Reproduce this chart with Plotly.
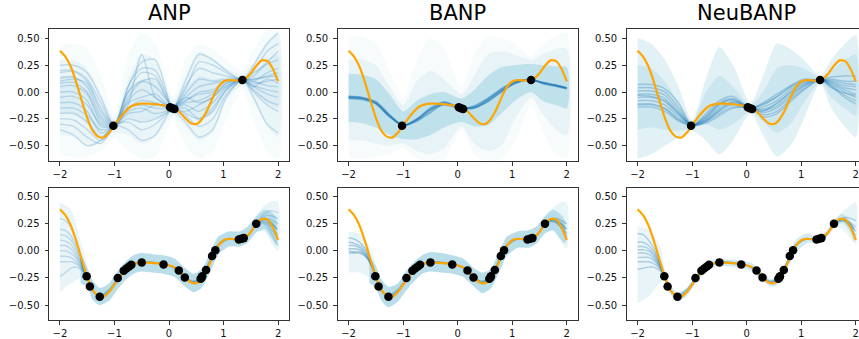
import plotly.graph_objects as go

# ---------------- data ----------------
TITLES = ["ANP", "BANP", "NeuBANP"]
X_TICKS = [-2, -1, 0, 1, 2]
X_TICK_TEXT = ["−2", "−1", "0", "1", "2"]
Y_TICKS = [-0.5, -0.25, 0.0, 0.25, 0.5]
Y_TICK_TEXT = ["−0.50", "−0.25", "0.00", "0.25", "0.50"]

# true function (orange)
TRUE_X = [-2.0, -1.9, -1.8, -1.7, -1.6, -1.5, -1.4, -1.3, -1.2, -1.1, -1.0,
          -0.9, -0.8, -0.7, -0.6, -0.5, -0.4, -0.3, -0.2, -0.1, 0.0,
          0.1, 0.2, 0.3, 0.4, 0.5, 0.6, 0.7, 0.8, 0.9, 1.0,
          1.1, 1.2, 1.3, 1.4, 1.5, 1.6, 1.7, 1.8, 1.9, 2.0]
TRUE_Y = [0.385, 0.33, 0.235, 0.09, -0.08, -0.24, -0.36, -0.415, -0.425, -0.38, -0.31,
          -0.24, -0.18, -0.135, -0.115, -0.108, -0.108, -0.112, -0.116, -0.124, -0.133,
          -0.152, -0.19, -0.245, -0.29, -0.298, -0.255, -0.17, -0.055, 0.045, 0.098,
          0.112, 0.108, 0.106, 0.125, 0.175, 0.245, 0.295, 0.29, 0.22, 0.10]

# context points
CTX_TOP_X = [-1.02, 0.02, 0.06, 0.10, 1.345]
CTX_TOP_Y = [-0.314, -0.142, -0.15, -0.158, 0.112]
CTX_BOT_X = [-1.51, -1.45, -1.27, -0.94, -0.83, -0.78, -0.73, -0.69, -0.50, -0.10,
             0.18, 0.29, 0.58, 0.60, 0.61, 0.68, 0.79, 0.85, 1.28, 1.33, 1.37, 1.60]
CTX_BOT_Y = [-0.233, -0.328, -0.424, -0.251, -0.184, -0.162, -0.143, -0.128, -0.106, -0.125,
             -0.18, -0.245, -0.257, -0.245, -0.233, -0.177, -0.048, 0.007, 0.106, 0.112, 0.118, 0.25]

# ---- top row (3 context points) ----
TOP_X = [-2.0, -1.75, -1.5, -1.25, -1.0, -0.75, -0.5, -0.25, 0.07, 0.3, 0.55, 0.8, 1.05, 1.35, 1.55, 1.8, 2.0]

ANP_TOP_LINES = [
    [0.25, 0.25, 0.18, -0.05, -0.31, 0.05, 0.28, 0.30, -0.15, 0.10, 0.35, 0.30, 0.20, 0.115, 0.25, 0.45, 0.55],
    [0.18, 0.19, 0.10, -0.15, -0.31, -0.05, 0.10, 0.12, -0.15, -0.05, -0.10, -0.05, 0.08, 0.115, 0.20, 0.38, 0.45],
    [0.13, 0.14, 0.05, -0.22, -0.31, -0.15, -0.08, -0.10, -0.15, 0.05, 0.22, 0.18, 0.15, 0.115, 0.15, 0.28, 0.38],
    [0.10, 0.12, 0.08, -0.18, -0.31, 0.00, 0.18, 0.15, -0.15, -0.15, -0.25, -0.18, 0.02, 0.115, 0.10, 0.18, 0.22],
    [0.05, 0.06, -0.02, -0.28, -0.31, -0.25, -0.28, -0.25, -0.15, -0.05, 0.05, 0.08, 0.10, 0.115, 0.12, 0.15, 0.18],
    [0.00, 0.00, -0.08, -0.32, -0.31, -0.10, -0.05, -0.02, -0.15, -0.10, -0.08, -0.02, 0.06, 0.115, 0.08, 0.10, 0.12],
    [-0.05, -0.04, -0.12, -0.30, -0.31, 0.05, 0.22, 0.20, -0.15, -0.22, -0.32, -0.25, -0.02, 0.115, 0.10, 0.06, 0.05],
    [-0.10, -0.10, -0.18, -0.38, -0.31, -0.18, -0.15, -0.20, -0.15, -0.02, 0.12, 0.10, 0.12, 0.115, 0.06, 0.02, 0.00],
    [-0.15, -0.15, -0.22, -0.35, -0.31, -0.08, 0.02, -0.05, -0.15, -0.12, -0.18, -0.10, 0.04, 0.115, 0.05, -0.02, -0.05],
    [-0.20, -0.20, -0.28, -0.42, -0.31, -0.28, -0.35, -0.30, -0.15, -0.08, -0.02, 0.00, 0.08, 0.115, 0.02, -0.08, -0.12],
    [-0.25, -0.26, -0.35, -0.45, -0.31, 0.00, 0.10, 0.05, -0.15, -0.28, -0.42, -0.35, -0.05, 0.115, 0.00, -0.12, -0.18],
    [-0.30, -0.32, -0.42, -0.48, -0.31, -0.15, -0.12, -0.15, -0.15, -0.08, 0.00, 0.02, 0.10, 0.115, 0.12, 0.14, 0.15],
    [-0.35, -0.40, -0.50, -0.45, -0.31, -0.35, -0.45, -0.40, -0.15, -0.20, -0.25, -0.15, 0.02, 0.115, -0.05, -0.30, -0.38],
    [0.20, 0.20, 0.12, -0.10, -0.31, -0.20, -0.18, -0.12, -0.15, 0.02, 0.28, 0.25, 0.18, 0.115, 0.18, 0.26, 0.30],
    [0.08, 0.09, 0.00, -0.25, -0.31, -0.12, 0.35, -0.05, -0.15, -0.18, -0.12, -0.05, 0.05, 0.115, 0.05, 0.12, 0.08],
]
ANP_TOP_BANDS = [
    ([-0.60, -0.60, -0.60, -0.55, -0.42, -0.55, -0.62, -0.60, -0.26, -0.50, -0.62, -0.55, -0.25, 0.02, -0.25, -0.55, -0.62],
     [0.45, 0.45, 0.40, 0.15, -0.20, 0.35, 0.55, 0.45, -0.04, 0.30, 0.45, 0.40, 0.30, 0.20, 0.40, 0.58, 0.60]),
    ([-0.40, -0.42, -0.50, -0.48, -0.38, -0.40, -0.48, -0.42, -0.22, -0.32, -0.45, -0.38, -0.08, 0.06, -0.08, -0.32, -0.42],
     [0.30, 0.30, 0.22, -0.02, -0.24, 0.12, 0.35, 0.30, -0.08, 0.15, 0.38, 0.32, 0.22, 0.17, 0.27, 0.48, 0.55]),
    ([-0.20, -0.20, -0.30, -0.42, -0.35, -0.25, -0.28, -0.25, -0.19, -0.20, -0.25, -0.20, 0.00, 0.08, 0.00, -0.10, -0.15],
     [0.15, 0.15, 0.08, -0.18, -0.27, 0.00, 0.12, 0.10, -0.11, 0.02, 0.15, 0.12, 0.14, 0.15, 0.18, 0.30, 0.35]),
]

BANP_TOP_LINES = [
    [-0.05, -0.06, -0.10, -0.22, -0.31, -0.26, -0.17, -0.10, -0.15, -0.14, -0.07, 0.02, 0.09, 0.115, 0.085, 0.06, 0.035],
    [-0.04, -0.05, -0.09, -0.21, -0.31, -0.25, -0.15, -0.09, -0.15, -0.13, -0.06, 0.03, 0.10, 0.115, 0.09, 0.065, 0.04],
    [-0.06, -0.07, -0.11, -0.23, -0.31, -0.27, -0.19, -0.11, -0.15, -0.15, -0.08, 0.01, 0.08, 0.115, 0.08, 0.055, 0.03],
    [-0.05, -0.055, -0.105, -0.225, -0.31, -0.255, -0.16, -0.12, -0.15, -0.145, -0.09, 0.00, 0.085, 0.115, 0.088, 0.062, 0.038],
]
BANP_TOP_BANDS = [
    ([-0.62, -0.62, -0.60, -0.58, -0.52, -0.62, -0.66, -0.62, -0.36, -0.58, -0.66, -0.62, -0.45, -0.12, -0.35, -0.58, -0.62],
     [0.52, 0.52, 0.45, 0.20, -0.05, 0.30, 0.50, 0.40, 0.05, 0.35, 0.52, 0.50, 0.45, 0.33, 0.45, 0.52, 0.55]),
    ([-0.45, -0.45, -0.48, -0.50, -0.48, -0.55, -0.58, -0.52, -0.32, -0.48, -0.55, -0.50, -0.25, -0.05, -0.20, -0.35, -0.40],
     [0.30, 0.30, 0.25, 0.05, -0.12, 0.10, 0.20, 0.12, -0.02, 0.15, 0.35, 0.38, 0.35, 0.30, 0.35, 0.40, 0.40]),
    ([-0.28, -0.29, -0.33, -0.40, -0.44, -0.44, -0.40, -0.33, -0.28, -0.32, -0.31, -0.20, -0.08, 0.00, -0.08, -0.12, -0.15],
     [0.17, 0.16, 0.12, -0.02, -0.18, -0.08, -0.02, 0.00, -0.06, 0.02, 0.15, 0.23, 0.25, 0.26, 0.25, 0.24, 0.23]),
]

NEU_TOP_LINES = [
    [0.07, 0.07, 0.03, -0.10, -0.31, -0.20, -0.08, -0.04, -0.15, -0.10, -0.02, 0.06, 0.12, 0.115, 0.14, 0.15, 0.15],
    [0.04, 0.04, 0.00, -0.14, -0.31, -0.22, -0.10, -0.06, -0.15, -0.12, -0.05, 0.04, 0.10, 0.115, 0.12, 0.10, 0.10],
    [0.01, 0.01, -0.03, -0.17, -0.31, -0.24, -0.12, -0.08, -0.15, -0.14, -0.08, 0.02, 0.09, 0.115, 0.10, 0.06, 0.05],
    [-0.02, -0.02, -0.06, -0.19, -0.31, -0.25, -0.14, -0.10, -0.15, -0.16, -0.11, 0.00, 0.08, 0.115, 0.09, 0.04, 0.02],
    [-0.05, -0.05, -0.09, -0.21, -0.31, -0.26, -0.16, -0.11, -0.15, -0.17, -0.13, -0.03, 0.06, 0.115, 0.08, 0.02, -0.02],
    [-0.08, -0.08, -0.12, -0.23, -0.31, -0.27, -0.18, -0.12, -0.15, -0.19, -0.15, -0.05, 0.05, 0.115, 0.07, 0.00, -0.05],
    [-0.11, -0.11, -0.15, -0.25, -0.31, -0.28, -0.20, -0.14, -0.15, -0.21, -0.18, -0.07, 0.03, 0.115, 0.06, -0.03, -0.08],
    [-0.14, -0.14, -0.18, -0.27, -0.31, -0.29, -0.22, -0.15, -0.15, -0.23, -0.20, -0.09, 0.02, 0.115, 0.05, -0.05, -0.11],
    [-0.03, -0.04, -0.08, -0.20, -0.31, -0.23, -0.11, -0.07, -0.15, -0.11, -0.04, 0.05, 0.11, 0.115, 0.11, 0.08, 0.07],
    [-0.12, -0.12, -0.16, -0.26, -0.31, -0.27, -0.17, -0.09, -0.15, -0.18, -0.10, -0.01, 0.07, 0.115, 0.04, -0.01, -0.03],
]
NEU_TOP_BANDS = [
    ([-0.62, -0.58, -0.50, -0.42, -0.36, -0.45, -0.58, -0.45, -0.20, -0.40, -0.60, -0.50, -0.25, 0.08, -0.15, -0.32, -0.42],
     [0.50, 0.45, 0.30, 0.05, -0.26, 0.12, 0.42, 0.25, -0.10, 0.15, 0.45, 0.40, 0.30, 0.15, 0.30, 0.45, 0.53]),
    ([-0.35, -0.33, -0.35, -0.36, -0.34, -0.30, -0.35, -0.30, -0.18, -0.28, -0.38, -0.30, -0.10, 0.09, -0.05, -0.15, -0.22],
     [0.25, 0.22, 0.10, -0.10, -0.28, 0.00, 0.15, 0.05, -0.12, 0.00, 0.22, 0.25, 0.22, 0.14, 0.20, 0.30, 0.35]),
]

# ---- bottom row (many context points) ----
BOT_BAND_X = [-1.62, -1.5, -1.4, -1.27, -1.1, -0.95, -0.8, -0.65, -0.5, -0.3, -0.1, 0.1,
              0.3, 0.45, 0.6, 0.75, 0.9, 1.1, 1.3, 1.45, 1.6, 1.75, 1.9, 1.97]
ANP_BOT_LO = [-0.30, -0.33, -0.45, -0.50, -0.46, -0.36, -0.27, -0.21, -0.19, -0.20, -0.21, -0.24,
              -0.33, -0.38, -0.34, -0.20, -0.04, 0.04, 0.04, 0.08, 0.17, 0.20, 0.10, 0.05]
ANP_BOT_HI = [-0.02, -0.15, -0.27, -0.34, -0.30, -0.19, -0.10, -0.04, -0.02, -0.03, -0.04, -0.07,
              -0.16, -0.21, -0.17, -0.02, 0.13, 0.18, 0.18, 0.23, 0.32, 0.38, 0.35, 0.30]
BANP_BOT_LO = [-0.30, -0.34, -0.46, -0.52, -0.47, -0.37, -0.28, -0.21, -0.19, -0.20, -0.21, -0.24,
               -0.33, -0.39, -0.35, -0.21, -0.05, 0.03, 0.03, 0.07, 0.16, 0.19, 0.10, 0.07]
BANP_BOT_HI = [-0.05, -0.14, -0.26, -0.33, -0.30, -0.19, -0.10, -0.04, -0.01, -0.02, -0.04, -0.07,
               -0.16, -0.20, -0.17, -0.02, 0.13, 0.18, 0.19, 0.23, 0.32, 0.38, 0.33, 0.28]
NEU_BOT_LO = [-0.10, -0.28, -0.40, -0.46, -0.42, -0.31, -0.22, -0.16, -0.14, -0.145, -0.16, -0.19,
              -0.28, -0.33, -0.30, -0.15, -0.02, 0.07, 0.08, 0.12, 0.21, 0.26, 0.17, 0.08]
NEU_BOT_HI = [0.00, -0.20, -0.32, -0.38, -0.34, -0.24, -0.14, -0.09, -0.075, -0.08, -0.09, -0.115,
              -0.21, -0.26, -0.21, -0.07, 0.10, 0.16, 0.13, 0.18, 0.28, 0.34, 0.27, 0.20]
BOT_MID_LINES = [
    [-0.06, -0.24, -0.36, -0.42, -0.38, -0.28, -0.18, -0.125, -0.105, -0.11, -0.125, -0.15,
     -0.245, -0.29, -0.255, -0.11, 0.045, 0.11, 0.105, 0.15, 0.245, 0.295, 0.22, 0.14],
    [-0.08, -0.25, -0.37, -0.41, -0.36, -0.26, -0.17, -0.12, -0.10, -0.105, -0.12, -0.16,
     -0.25, -0.28, -0.24, -0.09, 0.06, 0.115, 0.10, 0.14, 0.25, 0.30, 0.25, 0.20],
]

LEFT_X = [-2.0, -1.9, -1.8, -1.7, -1.6, -1.52]
RIGHT_X = [1.6, 1.7, 1.8, 1.9, 2.0]
EDGE_SHADE_LX = [-2.0, -1.8, -1.6, -1.5]
EDGE_SHADE_RX = [1.6, 1.75, 1.9, 2.0]

ANP_LEFT_LINES = [
    [0.30, 0.28, 0.22, 0.10, -0.08, -0.22], [0.20, 0.19, 0.14, 0.04, -0.10, -0.22],
    [0.15, 0.14, 0.10, 0.01, -0.12, -0.23], [0.10, 0.09, 0.06, -0.02, -0.13, -0.23],
    [0.05, 0.05, 0.02, -0.05, -0.14, -0.23], [0.00, 0.00, -0.02, -0.07, -0.15, -0.23],
    [-0.05, -0.05, -0.06, -0.10, -0.16, -0.23], [-0.10, -0.10, -0.10, -0.12, -0.17, -0.23],
    [-0.24, -0.20, -0.16, -0.15, -0.18, -0.23],
]
ANP_RIGHT_LINES = [
    [0.25, 0.32, 0.36, 0.37, 0.35], [0.25, 0.30, 0.33, 0.32, 0.30], [0.25, 0.29, 0.30, 0.28, 0.25],
    [0.25, 0.28, 0.28, 0.24, 0.20], [0.25, 0.27, 0.26, 0.21, 0.15], [0.25, 0.27, 0.25, 0.18, 0.10],
    [0.25, 0.26, 0.23, 0.14, 0.05],
]
ANP_EDGE_SHADE = ([-0.38, -0.30, -0.25, -0.26], [0.45, 0.38, 0.05, -0.15],
                  [0.18, 0.18, 0.05, 0.00], [0.32, 0.42, 0.46, 0.45])

BANP_LEFT_LINES = [
    [0.12, 0.11, 0.08, 0.02, -0.08, -0.20], [0.08, 0.07, 0.05, 0.00, -0.09, -0.20],
    [0.05, 0.05, 0.03, -0.02, -0.10, -0.20], [0.02, 0.02, 0.01, -0.03, -0.11, -0.21],
    [-0.02, -0.02, -0.02, -0.05, -0.12, -0.21], [0.00, -0.01, -0.01, -0.04, -0.11, -0.21],
]
BANP_RIGHT_LINES = [
    [0.25, 0.29, 0.30, 0.28, 0.25], [0.25, 0.28, 0.28, 0.25, 0.20],
    [0.25, 0.28, 0.27, 0.22, 0.16], [0.25, 0.27, 0.26, 0.21, 0.13],
]
BANP_EDGE_SHADE = ([-0.20, -0.20, -0.25, -0.26], [0.18, 0.16, 0.02, -0.15],
                   [0.18, 0.18, 0.08, 0.02], [0.32, 0.40, 0.45, 0.45])

NEU_LEFT_LINES = [
    [0.16, 0.15, 0.10, 0.02, -0.10, -0.22], [0.08, 0.08, 0.05, -0.01, -0.11, -0.22],
    [0.04, 0.04, 0.02, -0.03, -0.12, -0.22], [0.01, 0.01, 0.00, -0.05, -0.13, -0.22],
    [-0.02, -0.02, -0.03, -0.07, -0.14, -0.22], [-0.06, -0.06, -0.06, -0.09, -0.15, -0.22],
    [-0.10, -0.10, -0.10, -0.12, -0.16, -0.22], [-0.17, -0.16, -0.15, -0.15, -0.18, -0.22],
]
NEU_RIGHT_LINES = [
    [0.25, 0.29, 0.31, 0.30, 0.28], [0.25, 0.28, 0.29, 0.26, 0.22],
    [0.25, 0.28, 0.28, 0.24, 0.18], [0.25, 0.27, 0.27, 0.22, 0.14],
]
NEU_EDGE_SHADE = ([-0.48, -0.42, -0.30, -0.26], [0.22, 0.20, 0.05, -0.16],
                  [0.22, 0.20, 0.12, 0.06], [0.28, 0.36, 0.42, 0.45])

# ---------------- styling ----------------
W, H = 859, 339
PANEL_LEFT = [49.0, 337.7, 626.7]
PANEL_W = 240.0
ROW_TOP = [(29.0, 161.0), (188.3, 320.0)]
Y_RANGE = [(-0.642, 0.587), (-0.638, 0.578)]
SHADE = "173,216,230"
BLUE = "31,119,180"
ORANGE = "#FFA500"
FONT = "DejaVu Sans"

fig = go.Figure()


def ax(i):
    return ("x" if i == 1 else f"x{i}"), ("y" if i == 1 else f"y{i}")


def add_band(i, xs, lo, hi, alpha, shape="linear"):
    xa, ya = ax(i)
    fig.add_trace(go.Scatter(x=list(xs) + list(xs)[::-1], y=list(hi) + list(lo)[::-1],
                             fill="toself", fillcolor=f"rgba({SHADE},{alpha})",
                             line=dict(width=0, shape=shape, smoothing=0.7), mode="lines",
                             hoverinfo="skip", xaxis=xa, yaxis=ya))


def add_line(i, xs, ys, alpha, width=1.4):
    xa, ya = ax(i)
    fig.add_trace(go.Scatter(x=xs, y=ys, mode="lines",
                             line=dict(color=f"rgba({BLUE},{alpha})", width=width,
                                       shape="spline", smoothing=0.8),
                             hoverinfo="skip", xaxis=xa, yaxis=ya))


def add_truth(i, cx, cy):
    xa, ya = ax(i)
    fig.add_trace(go.Scatter(x=TRUE_X, y=TRUE_Y, mode="lines",
                             line=dict(color=ORANGE, width=2.2, shape="spline", smoothing=0.6),
                             xaxis=xa, yaxis=ya))
    fig.add_trace(go.Scatter(x=cx, y=cy, mode="markers",
                             marker=dict(color="black", size=8.5), xaxis=xa, yaxis=ya))


# --- top row ---
for (lo, hi), a in zip(ANP_TOP_BANDS, [0.11, 0.16, 0.22]):
    add_band(1, TOP_X, lo, hi, a, "spline")
for ln in ANP_TOP_LINES:
    add_line(1, TOP_X, ln, 0.22)
add_truth(1, CTX_TOP_X, CTX_TOP_Y)

for (lo, hi), a in zip(BANP_TOP_BANDS, [0.1, 0.2, 0.7]):
    add_band(2, TOP_X, lo, hi, a, "spline")
for ln in BANP_TOP_LINES:
    add_line(2, TOP_X, ln, 0.5, 1.6)
add_truth(2, CTX_TOP_X, CTX_TOP_Y)

for (lo, hi), a in zip(NEU_TOP_BANDS, [0.35, 0.4]):
    add_band(3, TOP_X, lo, hi, a, "spline")
for ln in NEU_TOP_LINES:
    add_line(3, TOP_X, ln, 0.3)
add_truth(3, CTX_TOP_X, CTX_TOP_Y)

# --- bottom row ---
bottom = [
    (4, ANP_BOT_LO, ANP_BOT_HI, 0.85, ANP_LEFT_LINES, ANP_RIGHT_LINES, ANP_EDGE_SHADE, 0.22),
    (5, BANP_BOT_LO, BANP_BOT_HI, 0.85, BANP_LEFT_LINES, BANP_RIGHT_LINES, BANP_EDGE_SHADE, 0.35),
    (6, NEU_BOT_LO, NEU_BOT_HI, 0.55, NEU_LEFT_LINES, NEU_RIGHT_LINES, NEU_EDGE_SHADE, 0.3),
]
for i, lo, hi, a, lefts, rights, shade, la in bottom:
    add_band(i, EDGE_SHADE_LX, shade[0], shade[1], 0.28, "spline")
    add_band(i, EDGE_SHADE_RX, shade[2], shade[3], 0.28, "spline")
    add_band(i, BOT_BAND_X, lo, hi, a, "spline")
    for ln in lefts:
        add_line(i, LEFT_X, ln, la)
    for ln in rights:
        add_line(i, RIGHT_X, ln, la)
    for ln in BOT_MID_LINES:
        add_line(i, BOT_BAND_X, ln, 0.45)
    add_truth(i, CTX_BOT_X, CTX_BOT_Y)

# --- axes ---
layout = dict(width=W, height=H, margin=dict(l=0, r=0, t=0, b=0),
              paper_bgcolor="white", plot_bgcolor="white", showlegend=False,
              font=dict(family=FONT, size=10, color="black"))
for row in range(2):
    for col in range(3):
        i = row * 3 + col + 1
        left = PANEL_LEFT[col]
        right = min(left + PANEL_W, W)
        xmax = -2.2 + (right - left) / PANEL_W * 4.4
        top, bot = ROW_TOP[row]
        xa, ya = ax(i)
        kx = "xaxis" if i == 1 else f"xaxis{i}"
        ky = "yaxis" if i == 1 else f"yaxis{i}"
        common = dict(showgrid=False, zeroline=False, showline=True, linecolor="#333",
                      linewidth=1, ticks="outside", ticklen=3.5, tickwidth=0.8,
                      tickcolor="#333", tickfont=dict(family=FONT, size=10, color="#111"))
        layout[kx] = dict(domain=[left / W, right / W], range=[-2.2, xmax], anchor=ya,
                          tickvals=X_TICKS, ticktext=X_TICK_TEXT, mirror=True, **common)
        layout[ky] = dict(domain=[1 - bot / H, 1 - top / H], range=list(Y_RANGE[row]), anchor=xa,
                          tickvals=Y_TICKS, ticktext=Y_TICK_TEXT, mirror=(col != 2),
                          ticklabelstandoff=3, **common)

annotations = []
for col, t in enumerate(TITLES):
    cx = (PANEL_LEFT[col] + PANEL_W / 2) / W
    annotations.append(dict(text=t, x=cx, y=1 - 27 / H, xref="paper", yref="paper",
                            xanchor="center", yanchor="bottom", showarrow=False,
                            font=dict(family=FONT, size=21, color="black")))
layout["annotations"] = annotations

fig.update_layout(**layout)
fig.write_html("out.html")
